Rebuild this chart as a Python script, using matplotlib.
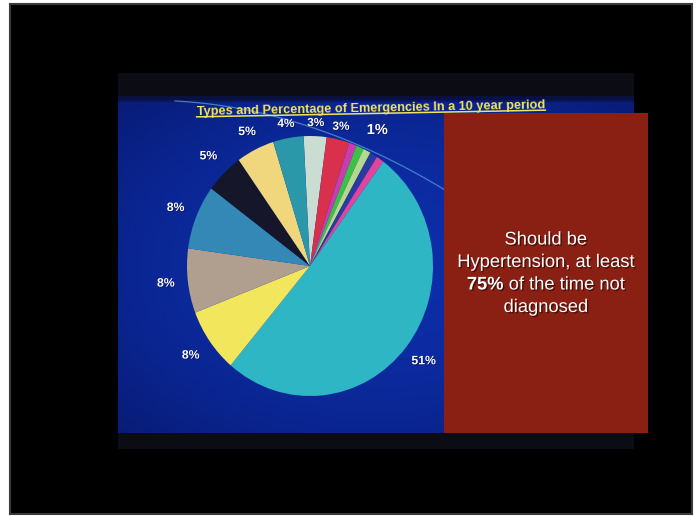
import numpy as np
import matplotlib.pyplot as plt
from matplotlib.patches import Rectangle
import matplotlib.patheffects as pe

# emergencies over 10 years, clockwise from the top
shares = [3, 3, 1, 1, 1, 1, 1, 51, 8, 8, 8, 5, 5, 4]
labels = ["3%", "3%", "", "", "1%", "", "", "51%", "8%", "8%", "8%", "5%", "5%", "4%"]
colors = ["#c9ddd2", "#d9304c", "#c83cb0", "#3cc048", "#b4d88c", "#2a3aa0", "#e0449c",
          "#2fb6c4", "#f2e65c", "#b09e8e", "#3488b6", "#16162a", "#f0d67c", "#2a98a8"]
label_sizes = [8.5, 8.5, 8.5, 8.5, 10.5, 8.5, 8.5, 8.8, 8.8, 8.8, 8.8, 8.8, 8.8, 8.5]
label_dist = [1.10, 1.10, 1.18, 1.18, 1.18, 1.18, 1.18, 1.18, 1.19, 1.18, 1.18, 1.18, 1.15, 1.11]

title = "Types and Percentage of Emergencies In a 10 year period"
note = ["Should be", "Hypertension, at least", "of the time not", "diagnosed"]
note_pct = "75%"

W, H = 699, 516
fig = plt.figure(figsize=(W / 100, H / 100), dpi=100)
fig.patch.set_facecolor("white")

# backdrop in pixel coordinates
bg = fig.add_axes([0, 0, 1, 1])
bg.set_xlim(0, W)
bg.set_ylim(H, 0)
bg.axis("off")
bg.add_patch(Rectangle((10, 4), 682, 510, facecolor="black", edgecolor="#3a3a3a", lw=1.5))
bg.add_patch(Rectangle((118, 73), 516, 376, facecolor="#0b0c14", lw=0))

# blue slide with a soft falloff towards the edges
gx, gy = np.meshgrid(np.linspace(-1, 1, 200), np.linspace(-1, 1, 150))
glow = np.clip(1 - 0.45 * (gx ** 2 + gy ** 2), 0, 1)
blue = np.zeros(glow.shape + (3,))
blue[..., 0] = 0.03 + 0.02 * glow
blue[..., 1] = 0.10 + 0.08 * glow
blue[..., 2] = 0.44 + 0.22 * glow
bg.imshow(blue, extent=(118, 634, 433, 100), aspect="auto", interpolation="bilinear", zorder=1)
bg.add_patch(Rectangle((118, 96), 516, 6, facecolor="#0a1450", lw=0, alpha=0.7, zorder=1.5))

# thin reflected arc across the top
t = np.linspace(0, 1, 60)
ax_pts = (1 - t) ** 2 * 175 + 2 * (1 - t) * t * 310 + t ** 2 * 445
ay_pts = (1 - t) ** 2 * 101 + 2 * (1 - t) * t * 108 + t ** 2 * 190
bg.plot(ax_pts, ay_pts, color="#5a9ad8", lw=0.9, alpha=0.75, zorder=2)

# title, slightly tilted like the projected slide
tilt = 1.1
ttl = bg.text(371, 111.5, title, color="#f2e45a", fontsize=9.2, fontweight="bold",
              family="Liberation Sans", ha="center", va="baseline", rotation=tilt,
              rotation_mode="anchor", zorder=3)
fig.canvas.draw()
bb = ttl.get_window_extent().transformed(bg.transData.inverted())
half = (bb.x1 - bb.x0) / 2
slope = np.tan(np.radians(tilt))
bg.plot([371 - half, 371 + half], [113.5 + half * slope, 113.5 - half * slope],
        color="#f2e45a", lw=1.1, zorder=3)

# pie, slightly taller than wide
cx, cy, rx, ry = 310, 266, 123, 130
half_w, half_h = 175, 175
pie_ax = fig.add_axes([(cx - half_w) / W, (H - cy - half_h) / H, 2 * half_w / W, 2 * half_h / H])
wedges, texts = pie_ax.pie(shares, colors=colors, labels=labels, startangle=93,
                           counterclock=False, labeldistance=1.18,
                           wedgeprops=dict(linewidth=0),
                           textprops=dict(color="white", fontweight="bold",
                                          family="Liberation Sans"))
for w, txt, size, d in zip(wedges, texts, label_sizes, label_dist):
    mid = np.radians((w.theta1 + w.theta2) / 2)
    txt.set_position((d * np.cos(mid), d * np.sin(mid)))
    txt.set_ha("center")
    txt.set_va("center")
    txt.set_fontsize(size)
    txt.set_path_effects([pe.withSimplePatchShadow(offset=(0.5, -0.5), shadow_rgbFace="#000030", alpha=0.6)])
pie_ax.set_aspect("auto")
pie_ax.set_xlim(-half_w / rx, half_w / rx)
pie_ax.set_ylim(-half_h / ry, half_h / ry)
pie_ax.axis("off")

# red callout box
top = fig.add_axes([0, 0, 1, 1])
top.set_xlim(0, W)
top.set_ylim(H, 0)
top.axis("off")
top.patch.set_alpha(0)
top.add_patch(Rectangle((444, 113), 204, 320, facecolor="#8a2014", lw=0))
shadow = [pe.withSimplePatchShadow(offset=(1, -1), shadow_rgbFace="black", alpha=0.5)]
fs = 13.2
bx = 546
top.text(bx, 240, note[0], color="white", fontsize=fs, family="Liberation Sans",
         ha="center", va="center", path_effects=shadow)
top.text(bx, 262.5, note[1], color="white", fontsize=fs, family="Liberation Sans",
         ha="center", va="center", path_effects=shadow)
pct = top.text(0, 285, note_pct + " ", color="white", fontsize=fs, fontweight="bold",
               family="Liberation Sans", ha="left", va="center", path_effects=shadow)
rest = top.text(0, 285, note[2], color="white", fontsize=fs, family="Liberation Sans",
                ha="left", va="center", path_effects=shadow)
fig.canvas.draw()
inv = top.transData.inverted()
w1 = inv.transform(pct.get_window_extent().get_points())
w2 = inv.transform(rest.get_window_extent().get_points())
tot = (w1[1, 0] - w1[0, 0]) + (w2[1, 0] - w2[0, 0])
x0 = bx - tot / 2
pct.set_x(x0)
rest.set_x(x0 + (w1[1, 0] - w1[0, 0]))
top.text(bx, 307.5, note[3], color="white", fontsize=fs, family="Liberation Sans",
         ha="center", va="center", path_effects=shadow)

fig.savefig("out.png", dpi=100, facecolor="white")
